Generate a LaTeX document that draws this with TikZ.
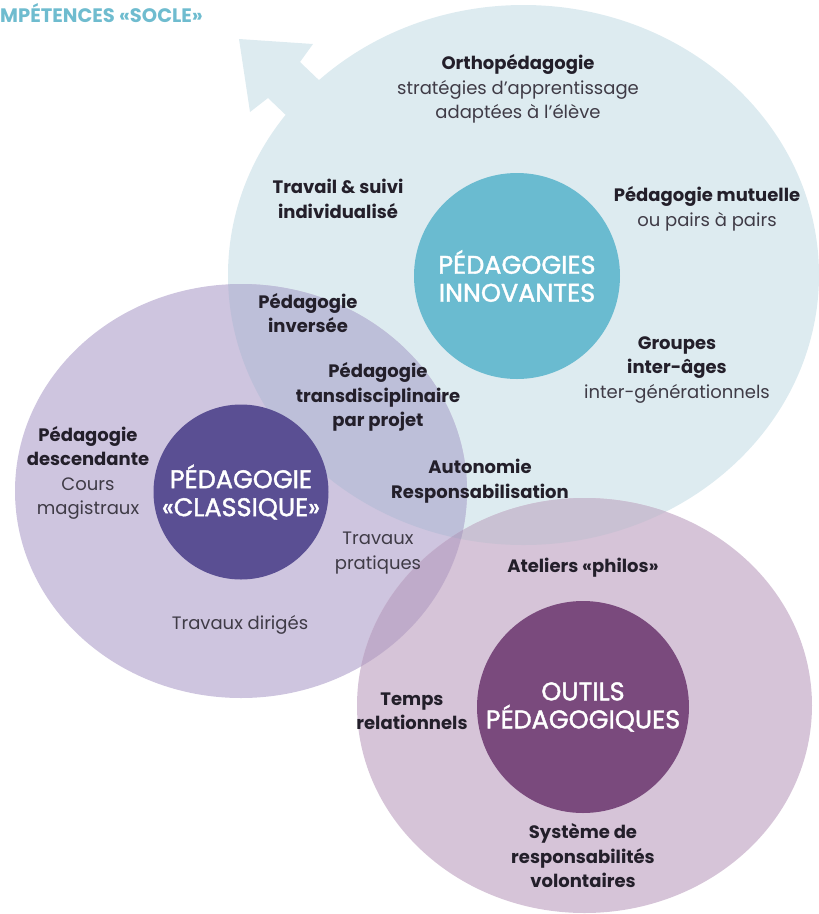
\documentclass[tikz,border=0pt]{standalone}
\usepackage{fontspec}
\setmainfont{Poppins}
\newfontfamily\corefont{Poppins}[FakeBold=1.6]
\begin{document}
\begin{tikzpicture}[x=1pt,y=-1pt]
% palette
\definecolor{cBlue}{HTML}{DDEBF0}
\definecolor{cPurp}{HTML}{CEC5DF}
\definecolor{cMauve}{HTML}{D6C4D8}
\definecolor{cBP}{HTML}{BDBFD9}
\definecolor{cBM}{HTML}{C9C1D3}
\definecolor{cPM}{HTML}{BFABCA}
\definecolor{cBPM}{HTML}{B4A9C7}
\definecolor{coreBlue}{HTML}{6ABBD0}
\definecolor{corePurp}{HTML}{5A4F93}
\definecolor{coreMauve}{HTML}{7A4A7D}
\definecolor{txtDark}{HTML}{231F2A}
\definecolor{txtSoft}{HTML}{3F3B46}
\definecolor{titleTeal}{HTML}{6FBCCF}
\tikzset{
  lbl/.style={align=center, inner sep=0pt, text=txtSoft,
    font=\fontsize{18}{24.5}\selectfont},
  blbl/.style={lbl, text=txtDark, font=\fontsize{18}{24.5}\selectfont\bfseries},
  core/.style={circle, inner sep=0pt, align=center, text=white,
    font=\corefont\fontsize{25.5}{28}\selectfont},
}
\def\blueE{(523.5,275) ellipse [x radius=295.5pt, y radius=270pt]}
\def\purpE{(241,491) ellipse [x radius=226pt, y radius=207pt]}
\def\mauveE{(584.5,705.5) ellipse [x radius=227.5pt, y radius=207.5pt]}
\useasboundingbox (0,0) rectangle (819,914);

% outer fields
\fill[cBlue] \blueE;
\fill[cBlue] (239,39) -- (313,44) -- (300,62) -- (345,105) -- (313,141)
  -- (268,98) -- (250,112) -- cycle;
\fill[cPurp] \purpE;
\fill[cMauve] \mauveE;
\begin{scope}\clip \blueE; \fill[cBP] \purpE; \end{scope}
\begin{scope}\clip \blueE; \fill[cBM] \mauveE; \end{scope}
\begin{scope}\clip \purpE; \fill[cPM] \mauveE; \end{scope}
\begin{scope}\clip \blueE; \clip \purpE; \fill[cBPM] \mauveE; \end{scope}

% cores
\node[core, fill=coreBlue, minimum size=206pt] (innov) at (517,276)
  {PÉDAGOGIES\\INNOVANTES};
\node[core, fill=corePurp, minimum size=175pt] (classic) at (241,492)
  {PÉDAGOGIE\\«CLASSIQUE»};
\node[core, fill=coreMauve, minimum size=212pt] (tools) at (583,707)
  {OUTILS\\PÉDAGOGIQUES};

% title
\node[anchor=west, inner sep=0pt, text=titleTeal,
  font=\fontsize{19.5}{22}\selectfont\bfseries] (title) at (0,13)
  {MPÉTENCES «SOCLE»};

% labels
\node[lbl] (ortho) at (518,89)
  {\textcolor{txtDark}{\bfseries Orthopédagogie}\\stratégies d’apprentissage\\adaptées à l’élève};
\node[blbl] (suivi) at (338,199) {Travail \& suivi\\individualisé};
\node[lbl] (mutuelle) at (707,209)
  {\textcolor{txtDark}{\bfseries Pédagogie mutuelle}\\ou pairs à pairs};
\node[blbl] (inverse) at (308,313) {Pédagogie\\inversée};
\node[blbl] (projet) at (378,397) {Pédagogie\\transdisciplinaire\\par projet};
\node[lbl] (groupes) at (677,370)
  {\textcolor{txtDark}{\bfseries Groupes}\\\textcolor{txtDark}{\bfseries inter-âges}\\inter-générationnels};
\node[lbl] (descend) at (88,473)
  {\textcolor{txtDark}{\bfseries Pédagogie}\\\textcolor{txtDark}{\bfseries descendante}\\Cours\\magistraux};
\node[blbl] (autonomie) at (480,481) {Autonomie\\Responsabilisation};
\node[lbl] (pratiques) at (378,553) {Travaux\\pratiques};
\node[blbl] (philos) at (583,568) {Ateliers «philos»};
\node[lbl] (diriges) at (240,625) {Travaux dirigés};
\node[blbl] (temps) at (412,711) {Temps\\relationnels};
\node[blbl] (systeme) at (583,856) {Système de\\responsabilités\\volontaires};
\end{tikzpicture}
\end{document}
